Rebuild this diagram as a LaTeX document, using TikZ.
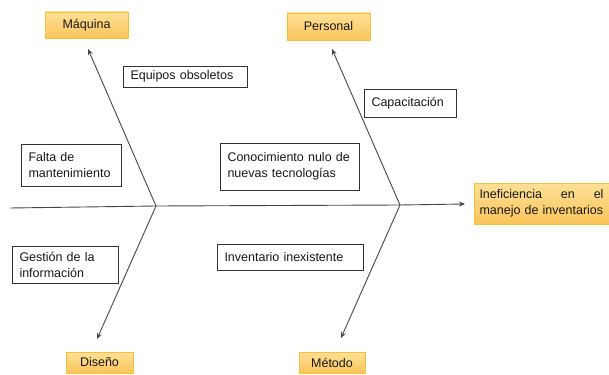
\documentclass[tikz,border=0pt]{standalone}
\usepackage{fontspec}
\setmainfont{Liberation Sans}
\usetikzlibrary{arrows.meta}
\definecolor{txt}{RGB}{25,25,25}
\definecolor{boneline}{RGB}{70,70,70}
\definecolor{orbord}{RGB}{250,192,60}
\definecolor{ortop}{RGB}{254,224,150}
\definecolor{orbot}{RGB}{250,196,90}
\tikzset{
  cat/.style={draw=orbord, line width=0.9pt, top color=ortop, bottom color=orbot,
    font=\fontsize{12.5}{16}\selectfont, text=txt, inner sep=0pt, align=center},
  cause/.style={draw=black!80, line width=0.8pt, fill=white,
    font=\fontsize{12.5}{16}\selectfont, text=txt, inner xsep=7.5pt, inner ysep=0pt, align=left},
  bone/.style={draw=boneline, line width=0.9pt, -{Stealth[length=6pt,width=5pt]}},
}
\begin{document}
\begin{tikzpicture}[x=1pt,y=-1pt]
\useasboundingbox (0,0) rectangle (609,374);
% category boxes
\node[cat, minimum width=83pt, minimum height=26pt] (maq) at (86.5,25) {Máquina};
\node[cat, minimum width=83pt, minimum height=27pt] (per) at (328.5,26.5) {Personal};
\node[cat, minimum width=67pt, minimum height=21pt] (dis) at (99.5,362.5) {Diseño};
\node[cat, minimum width=66pt, minimum height=21pt] (met) at (332,362.5) {Método};
\node[cat, minimum width=135pt, minimum height=41pt, text width=124pt, align=left] (inef) at (541.5,203.5)
  {Ineficiencia\hfill en\hfill el\\\mbox{manejo de inventarios}};
% cause boxes
\node[cause, text width=109pt, minimum height=21pt] (eq) at (185,76.5) {Equipos obsoletos};
\node[cause, text width=85pt, minimum height=42pt] (falta) at (71,165) {Falta de\\mantenimiento};
\node[cause, text width=124pt, minimum height=47pt] (con) at (289.5,166.5) {Conocimiento nulo de\\nuevas tecnologías};
\node[cause, text width=77pt, minimum height=28pt] (cap) at (410,103) {Capacitación};
\node[cause, text width=91pt, minimum height=37pt] (ges) at (65,264.5) {Gestión de la\\información};
\node[cause, text width=131pt, minimum height=26pt] (inv) at (290,257) {Inventario inexistente};
% spine
\coordinate (s0) at (10,208);
\coordinate (j1) at (156,206);
\coordinate (j2) at (400,205);
\coordinate (tipmaq) at (88,49);
\coordinate (tipper) at (332,49);
\coordinate (tipdis) at (97,339);
\coordinate (tipmet) at (341,338);
\coordinate (tipinef) at (465,204);
\draw[bone] (s0) -- (j1) -- (j2) -- (tipinef);
\draw[bone] (j1) -- (tipmaq);
\draw[bone] (j1) -- (tipdis);
\draw[bone] (j2) -- (tipper);
\draw[bone] (j2) -- (tipmet);
\end{tikzpicture}
\end{document}
